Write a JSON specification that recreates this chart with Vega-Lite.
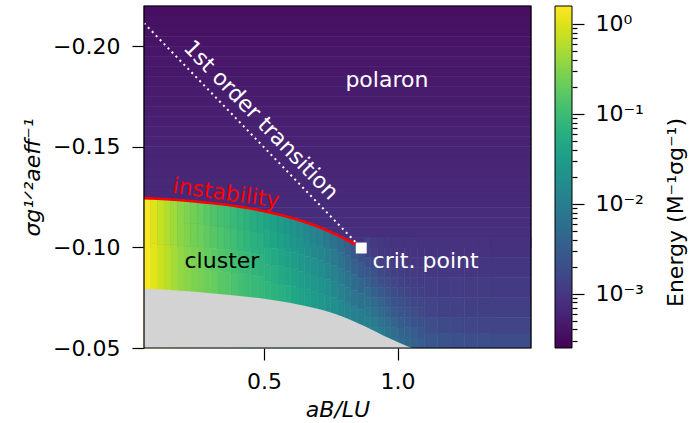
{
"$schema":"https://vega.github.io/schema/vega-lite/v6.json",
"padding":{"left":21,"top":5,"right":2,"bottom":2},
"config":{"font":"DejaVu Sans","view":{"stroke":null},
"axis":{"labelFontSize":22,"titleFontSize":22,"labelColor":"#000","titleColor":"#000","tickColor":"#000","tickWidth":1.2,"domain":false,"grid":false,"titleFontWeight":"normal","labelFont":"DejaVu Sans","titleFont":"DejaVu Sans"}},
"datasets":{
"cells":[
{"x":0.05,"x2":1.5,"y":-0.22,"y2":-0.215,"e":0.000344},
{"x":0.05,"x2":1.5,"y":-0.215,"y2":-0.21,"e":0.000358},
{"x":0.05,"x2":1.5,"y":-0.21,"y2":-0.205,"e":0.000372},
{"x":0.05,"x2":1.5,"y":-0.205,"y2":-0.2,"e":0.000386},
{"x":0.05,"x2":1.5,"y":-0.2,"y2":-0.195,"e":0.000401},
{"x":0.05,"x2":1.5,"y":-0.195,"y2":-0.19,"e":0.000417},
{"x":0.05,"x2":1.5,"y":-0.19,"y2":-0.185,"e":0.000432},
{"x":0.05,"x2":1.5,"y":-0.185,"y2":-0.18,"e":0.000449},
{"x":0.05,"x2":1.5,"y":-0.18,"y2":-0.175,"e":0.000466},
{"x":0.05,"x2":1.5,"y":-0.175,"y2":-0.17,"e":0.000484},
{"x":0.05,"x2":1.5,"y":-0.17,"y2":-0.165,"e":0.000503},
{"x":0.05,"x2":1.5,"y":-0.165,"y2":-0.16,"e":0.000522},
{"x":0.05,"x2":1.5,"y":-0.16,"y2":-0.155,"e":0.000542},
{"x":0.05,"x2":1.5,"y":-0.155,"y2":-0.15,"e":0.000563},
{"x":0.05,"x2":1.5,"y":-0.15,"y2":-0.145,"e":0.000584},
{"x":0.05,"x2":1.5,"y":-0.145,"y2":-0.14,"e":0.000607},
{"x":0.05,"x2":1.5,"y":-0.14,"y2":-0.135,"e":0.00063},
{"x":0.05,"x2":1.5,"y":-0.135,"y2":-0.13,"e":0.000654},
{"x":0.05,"x2":1.5,"y":-0.13,"y2":-0.125,"e":0.000679},
{"x":0.05,"x2":1.5,"y":-0.125,"y2":-0.12,"e":0.000705},
{"x":0.05,"x2":1.5,"y":-0.12,"y2":-0.115,"e":0.000732},
{"x":0.05,"x2":1.5,"y":-0.115,"y2":-0.11,"e":0.00076},
{"x":0.05,"x2":1.5,"y":-0.11,"y2":-0.105,"e":0.00079},
{"x":0.05,"x2":1.5,"y":-0.105,"y2":-0.1,"e":0.00082},
{"x":0.05,"x2":0.075,"y":-0.1244,"y2":-0.05,"e":1.45},
{"x":0.075,"x2":0.1,"y":-0.1243,"y2":-0.1018,"e":1.04},
{"x":0.075,"x2":0.1,"y":-0.1018,"y2":-0.05,"e":1.1},
{"x":0.1,"x2":0.125,"y":-0.1241,"y2":-0.1016,"e":0.753},
{"x":0.1,"x2":0.125,"y":-0.1016,"y2":-0.05,"e":0.822},
{"x":0.125,"x2":0.15,"y":-0.1239,"y2":-0.1014,"e":0.579},
{"x":0.125,"x2":0.15,"y":-0.1014,"y2":-0.05,"e":0.632},
{"x":0.15,"x2":0.175,"y":-0.1237,"y2":-0.1013,"e":0.445},
{"x":0.15,"x2":0.175,"y":-0.1013,"y2":-0.05,"e":0.486},
{"x":0.175,"x2":0.2,"y":-0.1235,"y2":-0.1011,"e":0.345},
{"x":0.175,"x2":0.2,"y":-0.1011,"y2":-0.05,"e":0.387},
{"x":0.2,"x2":0.225,"y":-0.1231,"y2":-0.1119,"e":0.287},
{"x":0.2,"x2":0.225,"y":-0.1119,"y2":-0.1006,"e":0.3},
{"x":0.2,"x2":0.225,"y":-0.1006,"y2":-0.0894,"e":0.3135},
{"x":0.2,"x2":0.225,"y":-0.0894,"y2":-0.05,"e":0.342},
{"x":0.225,"x2":0.25,"y":-0.1229,"y2":-0.1117,"e":0.241},
{"x":0.225,"x2":0.25,"y":-0.1117,"y2":-0.1004,"e":0.252},
{"x":0.225,"x2":0.25,"y":-0.1004,"y2":-0.0892,"e":0.275},
{"x":0.225,"x2":0.25,"y":-0.0892,"y2":-0.05,"e":0.287},
{"x":0.25,"x2":0.275,"y":-0.1226,"y2":-0.1114,"e":0.2023},
{"x":0.25,"x2":0.275,"y":-0.1114,"y2":-0.1002,"e":0.2208},
{"x":0.25,"x2":0.275,"y":-0.1002,"y2":-0.0889,"e":0.241},
{"x":0.25,"x2":0.275,"y":-0.0889,"y2":-0.05,"e":0.2631},
{"x":0.275,"x2":0.3,"y":-0.1223,"y2":-0.1111,"e":0.1698},
{"x":0.275,"x2":0.3,"y":-0.1111,"y2":-0.0999,"e":0.1854},
{"x":0.275,"x2":0.3,"y":-0.0999,"y2":-0.0886,"e":0.2023},
{"x":0.275,"x2":0.3,"y":-0.0886,"y2":-0.05,"e":0.2208},
{"x":0.3,"x2":0.325,"y":-0.1219,"y2":-0.1107,"e":0.1425},
{"x":0.3,"x2":0.325,"y":-0.1107,"y2":-0.0995,"e":0.1626},
{"x":0.3,"x2":0.325,"y":-0.0995,"y2":-0.0883,"e":0.1774},
{"x":0.3,"x2":0.325,"y":-0.0883,"y2":-0.05,"e":0.2023},
{"x":0.325,"x2":0.35,"y":-0.1215,"y2":-0.1103,"e":0.1196},
{"x":0.325,"x2":0.35,"y":-0.1103,"y2":-0.0991,"e":0.1364},
{"x":0.325,"x2":0.35,"y":-0.0991,"y2":-0.088,"e":0.1489},
{"x":0.325,"x2":0.35,"y":-0.088,"y2":-0.05,"e":0.1698},
{"x":0.35,"x2":0.375,"y":-0.1211,"y2":-0.11,"e":0.1096},
{"x":0.35,"x2":0.375,"y":-0.11,"y2":-0.0988,"e":0.1196},
{"x":0.35,"x2":0.375,"y":-0.0988,"y2":-0.0877,"e":0.1364},
{"x":0.35,"x2":0.375,"y":-0.0877,"y2":-0.05,"e":0.1556},
{"x":0.375,"x2":0.4,"y":-0.1206,"y2":-0.1095,"e":0.092},
{"x":0.375,"x2":0.4,"y":-0.1095,"y2":-0.0984,"e":0.1049},
{"x":0.375,"x2":0.4,"y":-0.0984,"y2":-0.0873,"e":0.1145},
{"x":0.375,"x2":0.4,"y":-0.0873,"y2":-0.05,"e":0.1306},
{"x":0.4,"x2":0.425,"y":-0.1201,"y2":-0.109,"e":0.0772},
{"x":0.4,"x2":0.425,"y":-0.109,"y2":-0.098,"e":0.0881},
{"x":0.4,"x2":0.425,"y":-0.098,"y2":-0.0869,"e":0.1004},
{"x":0.4,"x2":0.425,"y":-0.0869,"y2":-0.05,"e":0.1145},
{"x":0.425,"x2":0.45,"y":-0.1196,"y2":-0.1086,"e":0.0677},
{"x":0.425,"x2":0.45,"y":-0.1086,"y2":-0.0976,"e":0.0772},
{"x":0.425,"x2":0.45,"y":-0.0976,"y2":-0.0865,"e":0.0881},
{"x":0.425,"x2":0.45,"y":-0.0865,"y2":-0.05,"e":0.1004},
{"x":0.45,"x2":0.475,"y":-0.119,"y2":-0.108,"e":0.0568},
{"x":0.45,"x2":0.475,"y":-0.108,"y2":-0.0971,"e":0.0677},
{"x":0.45,"x2":0.475,"y":-0.0971,"y2":-0.0861,"e":0.0772},
{"x":0.45,"x2":0.475,"y":-0.0861,"y2":-0.05,"e":0.092},
{"x":0.475,"x2":0.5,"y":-0.1183,"y2":-0.1074,"e":0.0498},
{"x":0.475,"x2":0.5,"y":-0.1074,"y2":-0.0965,"e":0.0594},
{"x":0.475,"x2":0.5,"y":-0.0965,"y2":-0.0856,"e":0.0707},
{"x":0.475,"x2":0.5,"y":-0.0856,"y2":-0.05,"e":0.0843},
{"x":0.5,"x2":0.525,"y":-0.1176,"y2":-0.1089,"e":0.0418},
{"x":0.5,"x2":0.525,"y":-0.1089,"y2":-0.1002,"e":0.0498},
{"x":0.5,"x2":0.525,"y":-0.1002,"y2":-0.0915,"e":0.0568},
{"x":0.5,"x2":0.525,"y":-0.0915,"y2":-0.0829,"e":0.0677},
{"x":0.5,"x2":0.525,"y":-0.0829,"y2":-0.05,"e":0.0772},
{"x":0.525,"x2":0.55,"y":-0.1169,"y2":-0.1083,"e":0.0367},
{"x":0.525,"x2":0.55,"y":-0.1083,"y2":-0.0996,"e":0.0437},
{"x":0.525,"x2":0.55,"y":-0.0996,"y2":-0.091,"e":0.0498},
{"x":0.525,"x2":0.55,"y":-0.091,"y2":-0.0823,"e":0.0594},
{"x":0.525,"x2":0.55,"y":-0.0823,"y2":-0.05,"e":0.0707},
{"x":0.55,"x2":0.575,"y":-0.1161,"y2":-0.1075,"e":0.0308},
{"x":0.55,"x2":0.575,"y":-0.1075,"y2":-0.0989,"e":0.0367},
{"x":0.55,"x2":0.575,"y":-0.0989,"y2":-0.0904,"e":0.0437},
{"x":0.55,"x2":0.575,"y":-0.0904,"y2":-0.0818,"e":0.0521},
{"x":0.55,"x2":0.575,"y":-0.0818,"y2":-0.05,"e":0.062},
{"x":0.575,"x2":0.6,"y":-0.1152,"y2":-0.1067,"e":0.0258},
{"x":0.575,"x2":0.6,"y":-0.1067,"y2":-0.0982,"e":0.0308},
{"x":0.575,"x2":0.6,"y":-0.0982,"y2":-0.0897,"e":0.0367},
{"x":0.575,"x2":0.6,"y":-0.0897,"y2":-0.0812,"e":0.0437},
{"x":0.575,"x2":0.6,"y":-0.0812,"y2":-0.05,"e":0.0544},
{"x":0.6,"x2":0.625,"y":-0.1143,"y2":-0.1059,"e":0.0217},
{"x":0.6,"x2":0.625,"y":-0.1059,"y2":-0.0974,"e":0.0258},
{"x":0.6,"x2":0.625,"y":-0.0974,"y2":-0.089,"e":0.0322},
{"x":0.6,"x2":0.625,"y":-0.089,"y2":-0.0805,"e":0.0383},
{"x":0.6,"x2":0.625,"y":-0.0805,"y2":-0.05,"e":0.0457},
{"x":0.625,"x2":0.65,"y":-0.1133,"y2":-0.1049,"e":0.0182},
{"x":0.625,"x2":0.65,"y":-0.1049,"y2":-0.0965,"e":0.0227},
{"x":0.625,"x2":0.65,"y":-0.0965,"y2":-0.0882,"e":0.027},
{"x":0.625,"x2":0.65,"y":-0.0882,"y2":-0.0798,"e":0.0336},
{"x":0.625,"x2":0.65,"y":-0.0798,"y2":-0.05,"e":0.04},
{"x":0.65,"x2":0.675,"y":-0.1122,"y2":-0.1039,"e":0.0153},
{"x":0.65,"x2":0.675,"y":-0.1039,"y2":-0.0956,"e":0.019},
{"x":0.65,"x2":0.675,"y":-0.0956,"y2":-0.0873,"e":0.0237},
{"x":0.65,"x2":0.675,"y":-0.0873,"y2":-0.079,"e":0.0295},
{"x":0.65,"x2":0.675,"y":-0.079,"y2":-0.05,"e":0.0351},
{"x":0.675,"x2":0.7,"y":-0.111,"y2":-0.1028,"e":0.0128},
{"x":0.675,"x2":0.7,"y":-0.1028,"y2":-0.0946,"e":0.016},
{"x":0.675,"x2":0.7,"y":-0.0946,"y2":-0.0863,"e":0.0199},
{"x":0.675,"x2":0.7,"y":-0.0863,"y2":-0.0781,"e":0.0247},
{"x":0.675,"x2":0.7,"y":-0.0781,"y2":-0.05,"e":0.0308},
{"x":0.7,"x2":0.725,"y":-0.1097,"y2":-0.1016,"e":0.0112},
{"x":0.7,"x2":0.725,"y":-0.1016,"y2":-0.0934,"e":0.014},
{"x":0.7,"x2":0.725,"y":-0.0934,"y2":-0.0853,"e":0.0174},
{"x":0.7,"x2":0.725,"y":-0.0853,"y2":-0.0771,"e":0.0217},
{"x":0.7,"x2":0.725,"y":-0.0771,"y2":-0.05,"e":0.027},
{"x":0.725,"x2":0.75,"y":-0.1083,"y2":-0.1003,"e":0.00864},
{"x":0.725,"x2":0.75,"y":-0.1003,"y2":-0.0922,"e":0.0108},
{"x":0.725,"x2":0.75,"y":-0.0922,"y2":-0.0842,"e":0.014},
{"x":0.725,"x2":0.75,"y":-0.0842,"y2":-0.0761,"e":0.0182},
{"x":0.725,"x2":0.75,"y":-0.0761,"y2":-0.05,"e":0.0227},
{"x":0.75,"x2":0.775,"y":-0.1068,"y2":-0.0988,"e":0.00665},
{"x":0.75,"x2":0.775,"y":-0.0988,"y2":-0.0909,"e":0.00864},
{"x":0.75,"x2":0.775,"y":-0.0909,"y2":-0.0829,"e":0.0112},
{"x":0.75,"x2":0.775,"y":-0.0829,"y2":-0.075,"e":0.0146},
{"x":0.75,"x2":0.775,"y":-0.075,"y2":-0.05,"e":0.019},
{"x":0.775,"x2":0.8,"y":-0.1052,"y2":-0.0973,"e":0.0051},
{"x":0.775,"x2":0.8,"y":-0.0973,"y2":-0.0895,"e":0.00694},
{"x":0.775,"x2":0.8,"y":-0.0895,"y2":-0.0816,"e":0.00903},
{"x":0.775,"x2":0.8,"y":-0.0816,"y2":-0.0738,"e":0.0117},
{"x":0.775,"x2":0.8,"y":-0.0738,"y2":-0.05,"e":0.016},
{"x":0.8,"x2":0.825,"y":-0.1036,"y2":-0.0958,"e":0.00376},
{"x":0.8,"x2":0.825,"y":-0.0958,"y2":-0.088,"e":0.0051},
{"x":0.8,"x2":0.825,"y":-0.088,"y2":-0.0802,"e":0.00694},
{"x":0.8,"x2":0.825,"y":-0.0802,"y2":-0.0724,"e":0.00943},
{"x":0.8,"x2":0.825,"y":-0.0724,"y2":-0.05,"e":0.0128},
{"x":0.825,"x2":0.85,"y":-0.1019,"y2":-0.0942,"e":0.00265},
{"x":0.825,"x2":0.85,"y":-0.0942,"y2":-0.0864,"e":0.00376},
{"x":0.825,"x2":0.85,"y":-0.0864,"y2":-0.0787,"e":0.00534},
{"x":0.825,"x2":0.85,"y":-0.0787,"y2":-0.0709,"e":0.00758},
{"x":0.825,"x2":0.85,"y":-0.0709,"y2":-0.05,"e":0.0108},
{"x":0.85,"x2":0.875,"y":-0.0999,"y2":-0.0923,"e":0.00204},
{"x":0.85,"x2":0.875,"y":-0.0923,"y2":-0.0846,"e":0.00302},
{"x":0.85,"x2":0.875,"y":-0.0846,"y2":-0.077,"e":0.00448},
{"x":0.85,"x2":0.875,"y":-0.077,"y2":-0.0693,"e":0.00665},
{"x":0.85,"x2":0.875,"y":-0.0693,"y2":-0.05,"e":0.00986},
{"x":0.875,"x2":0.9,"y":-0.105,"y2":-0.095,"e":0.001315},
{"x":0.875,"x2":0.9,"y":-0.095,"y2":-0.09,"e":0.00195},
{"x":0.875,"x2":0.9,"y":-0.09,"y2":-0.085,"e":0.00265},
{"x":0.875,"x2":0.9,"y":-0.085,"y2":-0.08,"e":0.0036},
{"x":0.875,"x2":0.9,"y":-0.08,"y2":-0.075,"e":0.00489},
{"x":0.875,"x2":0.9,"y":-0.075,"y2":-0.07,"e":0.00665},
{"x":0.875,"x2":0.9,"y":-0.07,"y2":-0.065,"e":0.00864},
{"x":0.875,"x2":0.9,"y":-0.065,"y2":-0.06,"e":0.0108},
{"x":0.875,"x2":0.9,"y":-0.06,"y2":-0.055,"e":0.0128},
{"x":0.875,"x2":0.9,"y":-0.055,"y2":-0.05,"e":0.014},
{"x":0.9,"x2":0.925,"y":-0.105,"y2":-0.095,"e":0.0011},
{"x":0.9,"x2":0.925,"y":-0.095,"y2":-0.09,"e":0.00157},
{"x":0.9,"x2":0.925,"y":-0.09,"y2":-0.085,"e":0.00204},
{"x":0.9,"x2":0.925,"y":-0.085,"y2":-0.08,"e":0.00277},
{"x":0.9,"x2":0.925,"y":-0.08,"y2":-0.075,"e":0.00376},
{"x":0.9,"x2":0.925,"y":-0.075,"y2":-0.07,"e":0.0051},
{"x":0.9,"x2":0.925,"y":-0.07,"y2":-0.065,"e":0.00665},
{"x":0.9,"x2":0.925,"y":-0.065,"y2":-0.06,"e":0.00903},
{"x":0.9,"x2":0.925,"y":-0.06,"y2":-0.055,"e":0.0112},
{"x":0.9,"x2":0.925,"y":-0.055,"y2":-0.05,"e":0.0128},
{"x":0.925,"x2":0.95,"y":-0.105,"y2":-0.095,"e":0.00101},
{"x":0.925,"x2":0.95,"y":-0.095,"y2":-0.09,"e":0.001315},
{"x":0.925,"x2":0.95,"y":-0.09,"y2":-0.085,"e":0.00164},
{"x":0.925,"x2":0.95,"y":-0.085,"y2":-0.08,"e":0.00213},
{"x":0.925,"x2":0.95,"y":-0.08,"y2":-0.075,"e":0.00289},
{"x":0.925,"x2":0.95,"y":-0.075,"y2":-0.07,"e":0.00393},
{"x":0.925,"x2":0.95,"y":-0.07,"y2":-0.065,"e":0.0051},
{"x":0.925,"x2":0.95,"y":-0.065,"y2":-0.06,"e":0.00694},
{"x":0.925,"x2":0.95,"y":-0.06,"y2":-0.055,"e":0.00903},
{"x":0.925,"x2":0.95,"y":-0.055,"y2":-0.05,"e":0.0108},
{"x":0.95,"x2":0.975,"y":-0.105,"y2":-0.095,"e":0.000967},
{"x":0.95,"x2":0.975,"y":-0.095,"y2":-0.09,"e":0.0012},
{"x":0.95,"x2":0.975,"y":-0.09,"y2":-0.085,"e":0.00144},
{"x":0.95,"x2":0.975,"y":-0.085,"y2":-0.08,"e":0.00179},
{"x":0.95,"x2":0.975,"y":-0.08,"y2":-0.075,"e":0.00222},
{"x":0.95,"x2":0.975,"y":-0.075,"y2":-0.07,"e":0.00302},
{"x":0.95,"x2":0.975,"y":-0.07,"y2":-0.065,"e":0.00393},
{"x":0.95,"x2":0.975,"y":-0.065,"y2":-0.06,"e":0.00534},
{"x":0.95,"x2":0.975,"y":-0.06,"y2":-0.055,"e":0.00725},
{"x":0.95,"x2":0.975,"y":-0.055,"y2":-0.05,"e":0.00903},
{"x":0.975,"x2":1.0,"y":-0.105,"y2":-0.095,"e":0.000926},
{"x":0.975,"x2":1.0,"y":-0.095,"y2":-0.09,"e":0.0011},
{"x":0.975,"x2":1.0,"y":-0.09,"y2":-0.085,"e":0.00126},
{"x":0.975,"x2":1.0,"y":-0.085,"y2":-0.08,"e":0.0015},
{"x":0.975,"x2":1.0,"y":-0.08,"y2":-0.075,"e":0.00187},
{"x":0.975,"x2":1.0,"y":-0.075,"y2":-0.07,"e":0.00232},
{"x":0.975,"x2":1.0,"y":-0.07,"y2":-0.065,"e":0.00302},
{"x":0.975,"x2":1.0,"y":-0.065,"y2":-0.06,"e":0.00411},
{"x":0.975,"x2":1.0,"y":-0.06,"y2":-0.055,"e":0.00558},
{"x":0.975,"x2":1.0,"y":-0.055,"y2":-0.05,"e":0.00694},
{"x":1.0,"x2":1.025,"y":-0.105,"y2":-0.095,"e":0.000926},
{"x":1.0,"x2":1.025,"y":-0.095,"y2":-0.09,"e":0.00106},
{"x":1.0,"x2":1.025,"y":-0.09,"y2":-0.085,"e":0.0012},
{"x":1.0,"x2":1.025,"y":-0.085,"y2":-0.08,"e":0.00137},
{"x":1.0,"x2":1.025,"y":-0.08,"y2":-0.075,"e":0.00164},
{"x":1.0,"x2":1.025,"y":-0.075,"y2":-0.07,"e":0.00204},
{"x":1.0,"x2":1.025,"y":-0.07,"y2":-0.065,"e":0.00254},
{"x":1.0,"x2":1.025,"y":-0.065,"y2":-0.06,"e":0.00316},
{"x":1.0,"x2":1.025,"y":-0.06,"y2":-0.055,"e":0.00429},
{"x":1.0,"x2":1.025,"y":-0.055,"y2":-0.05,"e":0.00558},
{"x":1.025,"x2":1.05,"y":-0.105,"y2":-0.095,"e":0.000926},
{"x":1.025,"x2":1.05,"y":-0.095,"y2":-0.09,"e":0.00102},
{"x":1.025,"x2":1.05,"y":-0.09,"y2":-0.085,"e":0.0011},
{"x":1.025,"x2":1.05,"y":-0.085,"y2":-0.08,"e":0.00126},
{"x":1.025,"x2":1.05,"y":-0.08,"y2":-0.075,"e":0.00144},
{"x":1.025,"x2":1.05,"y":-0.075,"y2":-0.07,"e":0.00179},
{"x":1.025,"x2":1.05,"y":-0.07,"y2":-0.065,"e":0.00222},
{"x":1.025,"x2":1.05,"y":-0.065,"y2":-0.06,"e":0.00277},
{"x":1.025,"x2":1.05,"y":-0.06,"y2":-0.055,"e":0.0036},
{"x":1.025,"x2":1.05,"y":-0.055,"y2":-0.05,"e":0.00448},
{"x":1.05,"x2":1.075,"y":-0.105,"y2":-0.095,"e":0.00091},
{"x":1.05,"x2":1.075,"y":-0.095,"y2":-0.09,"e":0.001},
{"x":1.05,"x2":1.075,"y":-0.09,"y2":-0.085,"e":0.0011},
{"x":1.05,"x2":1.075,"y":-0.085,"y2":-0.08,"e":0.0012},
{"x":1.05,"x2":1.075,"y":-0.08,"y2":-0.075,"e":0.00137},
{"x":1.05,"x2":1.075,"y":-0.075,"y2":-0.07,"e":0.00157},
{"x":1.05,"x2":1.075,"y":-0.07,"y2":-0.065,"e":0.00195},
{"x":1.05,"x2":1.075,"y":-0.065,"y2":-0.06,"e":0.00232},
{"x":1.05,"x2":1.075,"y":-0.06,"y2":-0.055,"e":0.00302},
{"x":1.05,"x2":1.075,"y":-0.055,"y2":-0.05,"e":0.00376},
{"x":1.075,"x2":1.1,"y":-0.105,"y2":-0.095,"e":0.000902},
{"x":1.075,"x2":1.1,"y":-0.095,"y2":-0.09,"e":0.000984},
{"x":1.075,"x2":1.1,"y":-0.09,"y2":-0.085,"e":0.00106},
{"x":1.075,"x2":1.1,"y":-0.085,"y2":-0.08,"e":0.00115},
{"x":1.075,"x2":1.1,"y":-0.08,"y2":-0.075,"e":0.00132},
{"x":1.075,"x2":1.1,"y":-0.075,"y2":-0.07,"e":0.0015},
{"x":1.075,"x2":1.1,"y":-0.07,"y2":-0.065,"e":0.00171},
{"x":1.075,"x2":1.1,"y":-0.065,"y2":-0.06,"e":0.00204},
{"x":1.075,"x2":1.1,"y":-0.06,"y2":-0.055,"e":0.00254},
{"x":1.075,"x2":1.1,"y":-0.055,"y2":-0.05,"e":0.00316},
{"x":1.1,"x2":1.15,"y":-0.105,"y2":-0.095,"e":0.000894},
{"x":1.1,"x2":1.15,"y":-0.095,"y2":-0.085,"e":0.00101},
{"x":1.1,"x2":1.15,"y":-0.085,"y2":-0.075,"e":0.00117},
{"x":1.1,"x2":1.15,"y":-0.075,"y2":-0.065,"e":0.00144},
{"x":1.1,"x2":1.15,"y":-0.065,"y2":-0.057,"e":0.00195},
{"x":1.1,"x2":1.15,"y":-0.057,"y2":-0.05,"e":0.00265},
{"x":1.15,"x2":1.2,"y":-0.105,"y2":-0.095,"e":0.000886},
{"x":1.15,"x2":1.2,"y":-0.095,"y2":-0.085,"e":0.000993},
{"x":1.15,"x2":1.2,"y":-0.085,"y2":-0.075,"e":0.00114},
{"x":1.15,"x2":1.2,"y":-0.075,"y2":-0.065,"e":0.00137},
{"x":1.15,"x2":1.2,"y":-0.065,"y2":-0.057,"e":0.00174},
{"x":1.15,"x2":1.2,"y":-0.057,"y2":-0.05,"e":0.00232},
{"x":1.2,"x2":1.25,"y":-0.105,"y2":-0.095,"e":0.000878},
{"x":1.2,"x2":1.25,"y":-0.095,"y2":-0.085,"e":0.000984},
{"x":1.2,"x2":1.25,"y":-0.085,"y2":-0.075,"e":0.00112},
{"x":1.2,"x2":1.25,"y":-0.075,"y2":-0.065,"e":0.00132},
{"x":1.2,"x2":1.25,"y":-0.065,"y2":-0.057,"e":0.00161},
{"x":1.2,"x2":1.25,"y":-0.057,"y2":-0.05,"e":0.00213},
{"x":1.25,"x2":1.3,"y":-0.105,"y2":-0.095,"e":0.000871},
{"x":1.25,"x2":1.3,"y":-0.095,"y2":-0.085,"e":0.000976},
{"x":1.25,"x2":1.3,"y":-0.085,"y2":-0.075,"e":0.0011},
{"x":1.25,"x2":1.3,"y":-0.075,"y2":-0.065,"e":0.00128},
{"x":1.25,"x2":1.3,"y":-0.065,"y2":-0.057,"e":0.00153},
{"x":1.25,"x2":1.3,"y":-0.057,"y2":-0.05,"e":0.002},
{"x":1.3,"x2":1.35,"y":-0.105,"y2":-0.095,"e":0.000863},
{"x":1.3,"x2":1.35,"y":-0.095,"y2":-0.085,"e":0.000967},
{"x":1.3,"x2":1.35,"y":-0.085,"y2":-0.075,"e":0.00109},
{"x":1.3,"x2":1.35,"y":-0.075,"y2":-0.065,"e":0.00126},
{"x":1.3,"x2":1.35,"y":-0.065,"y2":-0.057,"e":0.00147},
{"x":1.3,"x2":1.35,"y":-0.057,"y2":-0.05,"e":0.00192},
{"x":1.35,"x2":1.5,"y":-0.105,"y2":-0.095,"e":0.000852},
{"x":1.35,"x2":1.5,"y":-0.095,"y2":-0.085,"e":0.000955},
{"x":1.35,"x2":1.5,"y":-0.085,"y2":-0.075,"e":0.00108},
{"x":1.35,"x2":1.5,"y":-0.075,"y2":-0.065,"e":0.00124},
{"x":1.35,"x2":1.5,"y":-0.065,"y2":-0.057,"e":0.00143},
{"x":1.35,"x2":1.5,"y":-0.057,"y2":-0.05,"e":0.00183}
],
"boundary":[
{"a":0.05,"s":-0.0795},{"a":0.1,"s":-0.0792},{"a":0.2,"s":-0.0783},{"a":0.3,"s":-0.0772},{"a":0.4,"s":-0.076},{"a":0.5,"s":-0.0745},{"a":0.6,"s":-0.0724},{"a":0.7,"s":-0.0695},{"a":0.75,"s":-0.0676},{"a":0.8,"s":-0.0653},{"a":0.85,"s":-0.0624},{"a":0.9,"s":-0.0593},{"a":0.95,"s":-0.056},{"a":1.0,"s":-0.053},{"a":1.03,"s":-0.0512},{"a":1.055,"s":-0.05}
],
"instability":[
{"a":0.05,"s":-0.1245},{"a":0.1,"s":-0.1242},{"a":0.15,"s":-0.1238},{"a":0.2,"s":-0.1233},{"a":0.25,"s":-0.1227},{"a":0.3,"s":-0.1221},{"a":0.35,"s":-0.1213},{"a":0.4,"s":-0.1204},{"a":0.45,"s":-0.1193},{"a":0.5,"s":-0.118},{"a":0.55,"s":-0.1165},{"a":0.6,"s":-0.1148},{"a":0.65,"s":-0.1128},{"a":0.7,"s":-0.1104},{"a":0.75,"s":-0.1076},{"a":0.8,"s":-0.1044},{"a":0.84,"s":-0.1017},{"a":0.864,"s":-0.0997}
],
"transition":[{"a":0.05,"s":-0.2115},{"a":0.864,"s":-0.0997}],
"critical":[{"a":0.864,"s":-0.0997}],
"labels":[
{"label":"polaron","a":0.96,"s":-0.1798},
{"label":"1st order transition","a":0.488,"s":-0.1633},
{"label":"instability","a":0.357,"s":-0.1269},
{"label":"cluster","a":0.342,"s":-0.0899},
{"label":"crit. point","a":1.105,"s":-0.0897}
],
"colorbar":[{"lo":0.000249,"hi":1.585}]
},
"spacing":24,
"bounds":"flush",
"hconcat":[
{"width":387,"height":342,
"layer":[
{"data":{"name":"cells"},"mark":{"type":"rect","strokeWidth":0.6},
"encoding":{
"x":{"field":"x","type":"quantitative","scale":{"domain":[0.05,1.5],"nice":false,"zero":false},"axis":{"values":[0.5,1.0],"format":".1f","title":"aB/LU","titleFontStyle":"italic","tickSize":12,"labelPadding":11,"titlePadding":7}},
"x2":{"field":"x2"},
"y":{"field":"y","type":"quantitative","scale":{"domain":[-0.22,-0.05],"reverse":true,"nice":false,"zero":false},"axis":{"values":[-0.2,-0.15,-0.1,-0.05],"format":".2f","title":"σg¹ᐟ²aeff⁻¹","titleFontStyle":"italic","tickSize":12,"labelPadding":12,"titlePadding":8}},
"y2":{"field":"y2"},
"color":{"field":"e","type":"quantitative","scale":{"type":"log","domain":[0.000249,1.585],"scheme":"viridis"},"legend":null},
"stroke":{"field":"e","type":"quantitative","scale":{"type":"log","domain":[0.000249,1.585],"scheme":"viridis"},"legend":null}
}},
{"data":{"name":"boundary"},"mark":{"type":"area","color":"#d3d3d3","interpolate":"monotone"},
"encoding":{"x":{"field":"a","type":"quantitative"},"y":{"field":"s","type":"quantitative"},"y2":{"datum":-0.05}}},
{"data":{"name":"instability"},"mark":{"type":"line","color":"#ff0000","strokeWidth":2.6,"interpolate":"monotone"},
"encoding":{"x":{"field":"a","type":"quantitative"},"y":{"field":"s","type":"quantitative"}}},
{"data":{"name":"transition"},"mark":{"type":"line","color":"#ffffff","strokeWidth":2,"strokeDash":[2,3.7]},
"encoding":{"x":{"field":"a","type":"quantitative"},"y":{"field":"s","type":"quantitative"}}},
{"data":{"name":"critical"},"mark":{"type":"point","shape":"square","filled":true,"color":"#ffffff","opacity":1,"size":120},
"encoding":{"x":{"field":"a","type":"quantitative"},"y":{"field":"s","type":"quantitative"}}},
{"data":{"name":"labels"},"transform":[{"filter":"datum.label=='polaron'"}],"mark":{"type":"text","color":"#ffffff","fontSize":22,"align":"center","baseline":"alphabetic"},
"encoding":{"x":{"field":"a","type":"quantitative"},"y":{"field":"s","type":"quantitative"},"text":{"field":"label"}}},
{"data":{"name":"labels"},"transform":[{"filter":"datum.label=='1st order transition'"}],"mark":{"type":"text","color":"#ffffff","fontSize":22,"align":"center","baseline":"middle","angle":46},
"encoding":{"x":{"field":"a","type":"quantitative"},"y":{"field":"s","type":"quantitative"},"text":{"field":"label"}}},
{"data":{"name":"labels"},"transform":[{"filter":"datum.label=='instability'"}],"mark":{"type":"text","color":"#ff0000","fontSize":22,"align":"center","baseline":"middle","angle":8},
"encoding":{"x":{"field":"a","type":"quantitative"},"y":{"field":"s","type":"quantitative"},"text":{"field":"label"}}},
{"data":{"name":"labels"},"transform":[{"filter":"datum.label=='cluster'"}],"mark":{"type":"text","color":"#000000","fontSize":22,"align":"center","baseline":"alphabetic"},
"encoding":{"x":{"field":"a","type":"quantitative"},"y":{"field":"s","type":"quantitative"},"text":{"field":"label"}}},
{"data":{"name":"labels"},"transform":[{"filter":"datum.label=='crit. point'"}],"mark":{"type":"text","color":"#ffffff","fontSize":22,"align":"center","baseline":"alphabetic"},
"encoding":{"x":{"field":"a","type":"quantitative"},"y":{"field":"s","type":"quantitative"},"text":{"field":"label"}}},
{"data":{"values":[{}]},"mark":{"type":"rect","filled":false,"stroke":"#000000","strokeWidth":1.2},
"encoding":{"x":{"datum":0.05},"x2":{"datum":1.5},"y":{"datum":-0.22},"y2":{"datum":-0.05}}}
]},
{"width":17,"height":342,
"data":{"name":"colorbar"},
"mark":{"type":"rect","stroke":"#000000","strokeWidth":1,"fill":{"gradient":"linear","x1":0,"y1":1,"x2":0,"y2":0,"stops":[
{"offset":0,"color":"#440154"},{"offset":0.05,"color":"#471365"},{"offset":0.1,"color":"#482475"},{"offset":0.15,"color":"#463480"},{"offset":0.2,"color":"#414487"},{"offset":0.25,"color":"#3b528b"},{"offset":0.3,"color":"#355f8d"},{"offset":0.35,"color":"#2f6c8e"},{"offset":0.4,"color":"#2a788e"},{"offset":0.45,"color":"#25848e"},{"offset":0.5,"color":"#21918c"},{"offset":0.55,"color":"#1e9c89"},{"offset":0.6,"color":"#22a884"},{"offset":0.65,"color":"#2fb47c"},{"offset":0.7,"color":"#44bf70"},{"offset":0.75,"color":"#5ec962"},{"offset":0.8,"color":"#7ad151"},{"offset":0.85,"color":"#9bd93c"},{"offset":0.9,"color":"#bddf26"},{"offset":0.95,"color":"#dfe318"},{"offset":1,"color":"#fde725"}]}},
"encoding":{
"x":{"datum":0,"type":"quantitative","scale":{"domain":[0,1],"nice":false},"axis":null},
"x2":{"datum":1},
"y":{"field":"lo","type":"quantitative","scale":{"type":"log","domain":[0.000249,1.585],"nice":false},
"axis":{"orient":"right","values":[0.0003,0.0004,0.0005,0.0006,0.0007,0.0008,0.0009,0.001,0.002,0.003,0.004,0.005,0.006,0.007,0.008,0.009,0.01,0.02,0.03,0.04,0.05,0.06,0.07,0.08,0.09,0.1,0.2,0.3,0.4,0.5,0.6,0.7,0.8,0.9,1],
"labelExpr":"datum.value==1?'10⁰':datum.value==0.1?'10⁻¹':datum.value==0.01?'10⁻²':datum.value==0.001?'10⁻³':''",
"tickSize":{"condition":{"test":"datum.value==0.001||datum.value==0.01||datum.value==0.1||datum.value==1","value":12},"value":5},
"labelPadding":11,"labelOverlap":false,"labelFlush":false,"labelBound":false,
"title":"Energy (M⁻¹σg⁻¹)","titleAngle":270,"titleX":103,"titleY":206,"titleAlign":"center","titleBaseline":"middle"}},
"y2":{"field":"hi"}
}}
]
}
